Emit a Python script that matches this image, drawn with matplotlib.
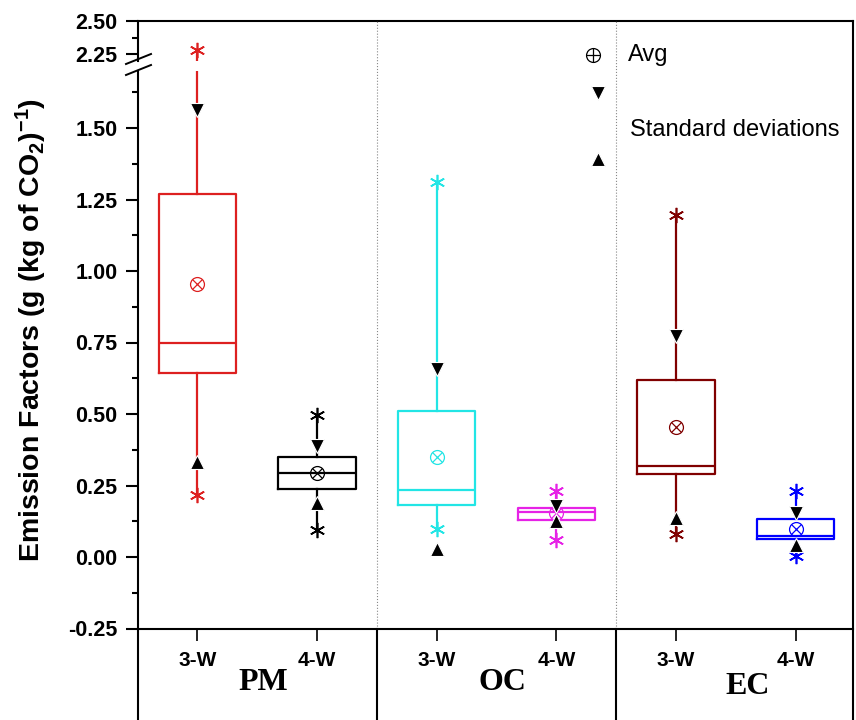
import numpy as np
import matplotlib.pyplot as plt
from matplotlib.lines import Line2D
from matplotlib import transforms
from matplotlib.ticker import MultipleLocator, FormatStrFormatter

plt.rcParams['font.family'] = ['Liberation Sans', 'DejaVu Sans']
plt.rcParams['font.weight'] = 'bold'
plt.rcParams['mathtext.fontset'] = 'custom'
plt.rcParams['mathtext.rm'] = 'Liberation Sans:bold'
plt.rcParams['mathtext.it'] = 'Liberation Sans:bold'
plt.rcParams['mathtext.bf'] = 'Liberation Sans:bold'

# emission factors, g (kg CO2)^-1 : PM, OC, EC for 3-W and 4-W
groups = ['PM', 'OC', 'EC']
vehicles = ['3-W', '4-W']
colors = ['#dd2020', 'black', '#22e5e5', '#e622e6', '#800000', '#0000ff']

q1 = [0.645, 0.237, 0.181, 0.130, 0.290, 0.062]
q3 = [1.270, 0.348, 0.511, 0.173, 0.620, 0.132]
med = [0.750, 0.294, 0.235, 0.158, 0.319, 0.074]
avg = [0.956, 0.294, 0.348, 0.155, 0.455, 0.097]
sd_hi = [1.563, 0.389, 0.658, 0.178, 0.771, 0.153]
sd_lo = [0.333, 0.190, 0.027, 0.126, 0.135, 0.041]
vmax = [2.280, 0.496, 1.311, 0.231, 1.197, 0.231]
vmin = [0.217, 0.095, 0.097, 0.060, 0.079, 0.003]

pos = np.arange(1, 7)
xlim = (0.5, 6.475)

W, H = 856, 720


def fx(px):
    return px / W


def fy(py):
    return 1 - py / H


fig = plt.figure(figsize=(W / 100, H / 100), dpi=100)
ax = fig.add_axes([fx(137.5), fy(628.5), fx(852.5) - fx(137.5), fy(70.8) - fy(628.5)])
axt = fig.add_axes([fx(137.5), fy(60.5), fx(852.5) - fx(137.5), fy(21) - fy(60.5)])

stats = [dict(med=m, q1=a, q3=b, whislo=lo, whishi=hi, fliers=[])
         for m, a, b, lo, hi in zip(med, q1, q3, vmin, vmax)]

# same boxes on both halves of the broken axis
for a in (ax, axt):
    bp = a.bxp(stats, positions=pos, widths=0.645, showcaps=False,
               showfliers=False, manage_ticks=False)
    for i, c in enumerate(colors):
        bp['boxes'][i].set(color=c, lw=1.6)
        bp['medians'][i].set(color=c, lw=1.6)
        bp['whiskers'][2 * i].set(color=c, lw=1.6)
        bp['whiskers'][2 * i + 1].set(color=c, lw=1.6)
        # max / min
        a.plot([pos[i]] * 2, [vmax[i], vmin[i]], ls='none', marker=(6, 2, 0),
               color=c, ms=11, mew=1.2, zorder=4)
        # mean
        a.plot(pos[i], avg[i], 'o', mfc='none', mec=c, ms=10, mew=0.9, zorder=4)
        a.plot(pos[i], avg[i], 'x', color=c, ms=7, mew=0.9, zorder=4)
    # +/- standard deviation
    a.plot(pos, sd_hi, 'v', color='black', mec='white', mew=0.8, ms=9.5, zorder=5)
    a.plot(pos, sd_lo, '^', color='black', mec='white', mew=0.8, ms=9.5, zorder=5)
    a.set_xlim(*xlim)
    a.spines['right'].set_visible(False)
    for s in a.spines.values():
        s.set_linewidth(1.5)

ax.set_ylim(-0.25, 1.70)
axt.set_ylim(2.205, 2.50)
ax.spines['top'].set_visible(False)
axt.spines['bottom'].set_visible(False)

ax.yaxis.set_major_locator(MultipleLocator(0.25))
ax.yaxis.set_minor_locator(MultipleLocator(0.125))
ax.yaxis.set_major_formatter(FormatStrFormatter('%.2f'))
axt.set_yticks([2.25, 2.50])
axt.set_yticks([2.375], minor=True)
axt.yaxis.set_major_formatter(FormatStrFormatter('%.2f'))
for a in (ax, axt):
    a.tick_params(axis='y', which='major', direction='out', length=8.5, width=1.5,
                  labelsize=15.5, pad=6, right=False)
    a.tick_params(axis='y', which='minor', direction='out', length=4.5, width=1.5,
                  right=False)
axt.tick_params(axis='x', bottom=False, labelbottom=False, top=False)

ax.set_xticks(pos)
ax.set_xticklabels(vehicles * 3)
ax.tick_params(axis='x', direction='out', length=8.5, width=1.2, labelsize=15, pad=8,
               top=False)

# group separators and frame below the axis
trans = transforms.blended_transform_factory(ax.transData, fig.transFigure)
for x in (2.5, 4.5):
    fig.add_artist(Line2D([x, x], [fy(628.5), fy(21)], transform=trans,
                          color='#888888', lw=0.8, ls=':'))
for x in (0.5, 2.5, 4.5):
    fig.add_artist(Line2D([x, x], [0, fy(628.5)], transform=trans,
                          color='black', lw=1.5))
fig.add_artist(Line2D([xlim[1]] * 2, [0, fy(21)], transform=trans,
                      color='black', lw=1.5))

# group names
for x, y, g in zip([1.55, 3.55, 5.6], [682, 682, 687], groups):
    ax.text(x, fy(y), g, transform=trans, ha='center', va='center',
            family='Liberation Serif', fontsize=23, fontweight='bold')

# axis break marks
for y0 in (64, 75):
    fig.add_artist(Line2D([fx(126), fx(151)], [fy(y0), fy(y0 - 10)],
                          transform=fig.transFigure, color='black', lw=1.4))

fig.text(fx(31), fy(330), r'Emission Factors (g (kg of CO$_2$)$^{-1}$)',
         rotation=90, ha='center', va='center', fontsize=20.5, fontweight='bold')

# key for the markers
fig.add_artist(Line2D([fx(593)], [fy(55)], marker='o', mfc='none', mec='black',
                      ms=10, mew=0.9, transform=fig.transFigure))
fig.add_artist(Line2D([fx(593)], [fy(55)], marker='+', color='black',
                      ms=10, mew=0.9, transform=fig.transFigure))
fig.add_artist(Line2D([fx(598)], [fy(93)], marker='v', color='black', mec='white',
                      mew=0.8, ms=9.5, transform=fig.transFigure))
fig.add_artist(Line2D([fx(598)], [fy(159)], marker='^', color='black', mec='white',
                      mew=0.8, ms=9.5, transform=fig.transFigure))
fig.text(fx(628), fy(55), 'Avg', ha='left', va='center', fontsize=17,
         fontweight='normal')
fig.text(fx(630), fy(130), 'Standard deviations', ha='left', va='center',
         fontsize=17, fontweight='normal')

fig.savefig('out.png', dpi=100)
